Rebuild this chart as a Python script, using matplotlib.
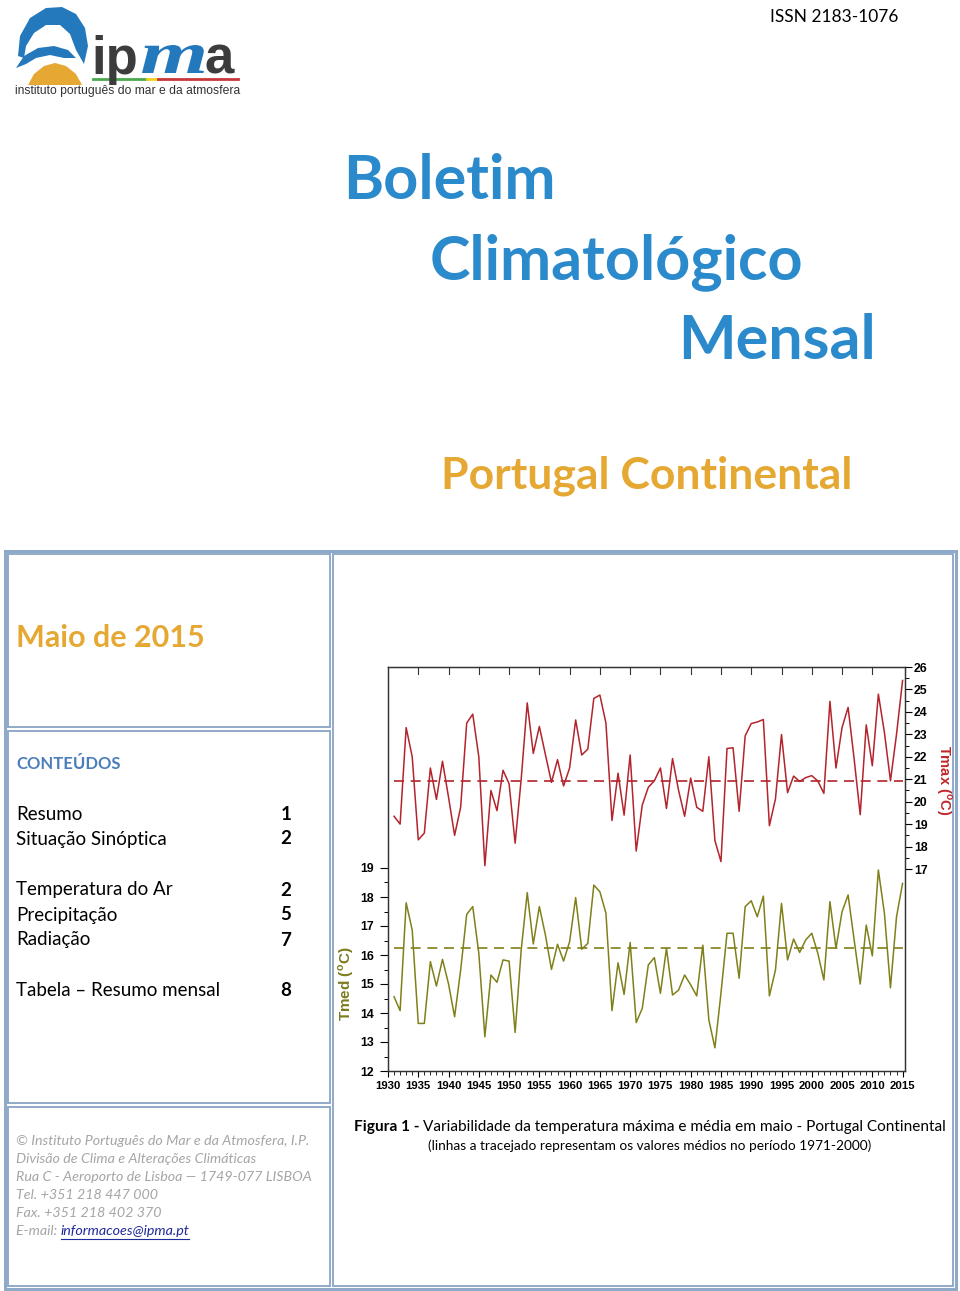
import numpy as np
import matplotlib
matplotlib.use("Agg")
import matplotlib.pyplot as plt
import matplotlib.transforms as mtransforms
from matplotlib.patches import Rectangle, Polygon, PathPatch
from matplotlib.textpath import TextPath
from matplotlib.font_manager import FontProperties
from matplotlib.ticker import MultipleLocator

plt.rcParams['font.family'] = ['Lato', 'DejaVu Sans']

W, H = 960, 1291

# ---- data ----
years = list(range(1931, 2016))
tmax = [19.35, 19.0, 23.3, 22.0, 18.3, 18.6, 21.5, 20.1, 21.8, 20.2,
        18.5, 19.75, 23.5, 23.9, 22.0, 17.15, 20.5, 19.6, 21.4, 20.8,
        18.15, 21.0, 24.4, 22.15, 23.35, 22.1, 20.86, 21.87, 20.7, 21.5,
        23.64, 22.08, 22.34, 24.6, 24.75, 23.5, 19.16, 21.27, 19.4, 22.08,
        17.8, 19.85, 20.64, 20.93, 21.5, 19.7, 21.92, 20.5, 19.35, 21.05,
        19.75, 19.57, 22.0, 18.27, 17.33, 22.37, 22.4, 19.57, 22.93, 23.48,
        23.55, 23.66, 18.93, 20.12, 22.99, 20.4, 21.14, 20.9, 21.07, 21.16,
        20.92, 20.37, 24.47, 21.5, 23.3, 24.2, 21.9, 19.42, 23.42, 21.6,
        24.79, 23.08, 20.93, 23.0, 25.4]
tmed = [14.56, 14.08, 17.8, 16.86, 13.64, 13.64, 15.77, 14.93, 15.85, 15.0,
        13.87, 15.48, 17.4, 17.67, 16.06, 13.18, 15.31, 15.06, 15.83, 15.79,
        13.33, 16.17, 18.15, 16.38, 17.67, 16.69, 15.5, 16.37, 15.79, 16.46,
        17.98, 16.2, 16.4, 18.41, 18.18, 17.44, 14.08, 15.73, 14.64, 16.43,
        13.67, 14.16, 15.66, 15.91, 14.68, 16.23, 14.62, 14.79, 15.31, 14.97,
        14.59, 16.34, 13.76, 12.8, 14.68, 16.75, 16.75, 15.2, 17.67, 17.87,
        17.32, 18.03, 14.59, 15.48, 17.78, 15.83, 16.55, 16.09, 16.52, 16.75,
        16.06, 15.14, 17.84, 16.23, 17.49, 18.07, 16.52, 15.0, 17.03, 15.97,
        18.93, 17.44, 14.87, 17.32, 18.47]
tmax_normal = 20.9   # 1971-2000
tmed_normal = 16.23
xtick_years = list(range(1930, 2016, 5))
tmed_ticks = list(range(12, 20))
tmax_ticks = list(range(17, 27))

contents = ["Resumo", "Situação Sinóptica", "Temperatura do Ar",
            "Precipitação", "Radiação", "Tabela – Resumo mensal"]
pages = ["1", "2", "2", "5", "7", "8"]
address = ["© Instituto Português do Mar e da Atmosfera, I.P.",
           "Divisão de Clima e Alterações Climáticas",
           "Rua C - Aeroporto de Lisboa — 1749-077 LISBOA",
           "Tel. +351 218 447 000",
           "Fax. +351 218 402 370"]

BLUE = '#2B8ACB'
GOLD = '#E5A833'
BORDER = '#8FAAC8'
RED = '#B3242C'
OLIVE = '#80801A'
LOGO_BLUE = '#2479BD'

fig = plt.figure(figsize=(W / 100, H / 100), dpi=100)
bg = fig.add_axes([0, 0, 1, 1])
bg.set_xlim(0, W)
bg.set_ylim(H, 0)
bg.axis('off')

# ---- logo ----
mound = [(28, 85), (34, 74), (44, 66), (55, 63), (66, 66), (76, 74), (82, 85)]
bg.add_patch(Polygon(mound, closed=True, color=GOLD, lw=0))
hood = [(18, 56), (20, 36), (30, 18), (46, 8), (62, 7), (76, 14), (85, 28),
        (88, 46), (84, 64), (76, 50), (70, 34), (60, 25), (46, 25), (34, 33),
        (26, 46), (24, 58)]
bg.add_patch(Polygon(hood, closed=True, color=LOGO_BLUE, lw=0))
wave = [(16, 68), (24, 56), (38, 48), (54, 46), (68, 50), (76, 58), (64, 58),
        (50, 55), (36, 58), (26, 64)]
bg.add_patch(Polygon(wave, closed=True, color=LOGO_BLUE, lw=0))
bg.plot([30, 40, 54, 66], [44, 36, 34, 38], color='white', lw=1.5)

bg.text(91, 74, "ip", fontsize=38, weight='bold', color='#3C3C3C',
        family='Liberation Sans', ha='left', va='baseline')
bg.text(204, 74, "a", fontsize=38, weight='bold', color='#3C3C3C',
        family='Liberation Sans', ha='left', va='baseline')
tp = TextPath((0, 0), "m", size=40,
              prop=FontProperties(family='Liberation Serif', style='italic',
                                  weight='bold'))
ext = tp.get_extents()
mtr = (mtransforms.Affine2D().translate(-ext.x0, -ext.y0)
       .scale(62 / ext.width, -28 / ext.height).translate(142, 73))
bg.add_patch(PathPatch(tp, color=LOGO_BLUE, lw=0,
                       transform=mtr + bg.transData))
bg.plot([93, 147], [79, 79], color='#4CA84C', lw=2)
bg.plot([147, 158], [79, 79], color='#F2D21B', lw=2)
bg.plot([158, 238], [79, 79], color='#C8373A', lw=2)
bg.text(15, 91, "instituto português do mar e da atmosfera", fontsize=8.7,
        color='#333333', family='Liberation Sans', ha='left', va='center')

bg.text(834, 17, "ISSN 2183-1076", fontsize=12.5, color='black',
        ha='center', va='center')

# ---- titles ----
bg.text(343, 199, "Boletim", fontsize=44, weight='bold', color=BLUE,
        ha='left', va='baseline')
bg.text(430, 279, "Climatológico", fontsize=44, weight='bold', color=BLUE,
        ha='left', va='baseline')
bg.text(678, 359, "Mensal", fontsize=44, weight='bold', color=BLUE,
        ha='left', va='baseline')
bg.text(441, 488, "Portugal Continental", fontsize=32, weight='bold',
        color=GOLD, ha='left', va='baseline')

# ---- table frame ----
bg.add_patch(Rectangle((5, 551), 951, 738, fill=False, ec=BORDER, lw=2.2))
for (x0, y0, x1, y1) in [(8, 554, 330, 727), (8, 731, 330, 1103),
                         (8, 1107, 330, 1286), (333, 554, 953, 1286)]:
    bg.add_patch(Rectangle((x0, y0), x1 - x0, y1 - y0, fill=False,
                           ec=BORDER, lw=1.4))

bg.text(16, 647, "Maio de 2015", fontsize=22, weight='bold', color=GOLD,
        ha='left', va='baseline')
bg.text(16, 764, "CONTEÚDOS", fontsize=12, weight='bold', color='#4A7EBB',
        ha='left', va='center')
row_y = [814, 839, 890, 915, 940, 991]
for name, pg, yy in zip(contents, pages, row_y):
    bg.text(16, yy, name, fontsize=13.5, color='black', ha='left', va='center')
    bg.text(286, yy, pg, fontsize=13.5, weight='bold', color='black',
            ha='center', va='center')

GRAY = '#A5A5A5'
for i, line in enumerate(address):
    bg.text(16, 1141 + 18 * i, line, fontsize=10.3, style='italic',
            color=GRAY, ha='left', va='center')

renderer = fig.canvas.get_renderer()


def text_width(t):
    return t.get_window_extent(renderer=renderer).width


lab = bg.text(16, 1231, "E-mail: ", fontsize=10.3, style='italic', color=GRAY,
              ha='left', va='center')
wl = text_width(lab)
mail = bg.text(16 + wl, 1231, "informacoes@ipma.pt", fontsize=10.3,
               style='italic', color='#1F2A9C', ha='left', va='center')
wm = text_width(mail)
bg.plot([16 + wl, 16 + wl + wm], [1238.5, 1238.5], color='#1F2A9C', lw=0.8)

# ---- caption ----
cap_b = bg.text(0, 1127, "Figura 1 - ", fontsize=11.1, weight='bold',
                color='black', ha='left', va='center')
cap_r = bg.text(0, 1127, "Variabilidade da temperatura máxima e média em maio"
                " - Portugal Continental", fontsize=11.1, color='black',
                ha='left', va='center')
wb, wr = text_width(cap_b), text_width(cap_r)
x0 = 650 - (wb + wr) / 2
cap_b.set_x(x0)
cap_r.set_x(x0 + wb)
bg.text(650, 1146, "(linhas a tracejado representam os valores médios no "
        "período 1971-2000)", fontsize=9.8, color='black', ha='center',
        va='center')

# ---- chart ----
L, R, T, B = 388, 905, 667, 1071
ax = fig.add_axes([L / W, 1 - B / H, (R - L) / W, (B - T) / H])
ax2 = ax.twinx()
ax.set_xlim(1930, 2015.4)

ax.plot(years, tmed, color=OLIVE, lw=1.1)
ax.plot([years[0], years[-1]], [tmed_normal, tmed_normal], color=OLIVE,
        lw=1.2, dashes=(6, 4))
ax2.plot(years, tmax, color=RED, lw=1.1)
ax2.plot([years[0], years[-1]], [tmax_normal, tmax_normal], color=RED,
         lw=1.2, dashes=(6, 4))

ax.set_ylim(12, 12 + (B - T) / 29.0)
ax2.set_ylim(8, 26)

tickfont = dict(family='Liberation Sans', weight='bold', size=8.8)
ax.set_yticks(tmed_ticks)
ax.set_yticks(np.arange(12, 19.01, 0.5), minor=True)
ax.set_yticklabels([str(v) for v in tmed_ticks], **tickfont)
ax2.set_yticks(tmax_ticks)
ax2.set_yticks(np.arange(17, 26.01, 0.5), minor=True)
ax2.set_yticklabels([str(v) for v in tmax_ticks], **tickfont)
ax.set_xticks(xtick_years)
ax.set_xticklabels([str(v) for v in xtick_years], family='Liberation Sans',
                   weight='bold', size=8.2)
ax.xaxis.set_minor_locator(MultipleLocator(1))

ax.tick_params(axis='y', which='major', direction='out', length=6, width=0.8,
               pad=4)
ax.tick_params(axis='y', which='minor', direction='out', length=3, width=0.7)
ax2.tick_params(axis='y', which='major', direction='out', length=5, width=0.8,
                pad=1.5)
ax2.tick_params(axis='y', which='minor', direction='out', length=3, width=0.7)
ax.tick_params(axis='x', which='major', direction='out', length=4, width=0.8,
               pad=3, top=False)
ax.tick_params(axis='x', which='minor', direction='out', length=3, width=0.6)
for a in (ax, ax2):
    for s in a.spines.values():
        s.set_linewidth(0.9)
        s.set_color('#333333')

# inward ticks on top spine
ytop = ax.get_ylim()[1]
for yr in xtick_years[1:-1]:
    ax.plot([yr, yr], [ytop, ytop - 0.25], color='#333333', lw=0.8,
            clip_on=False)

bg.text(346, 984, r"Tmed ($^\mathregular{o}$C)", rotation=90, fontsize=11,
        weight='bold', color='#7C7C1E', family='Liberation Sans',
        ha='center', va='center')
bg.text(944, 780, r"Tmax ($^\mathregular{o}$C)", rotation=270, fontsize=10.5,
        weight='bold', color='#C0282C', family='Liberation Sans',
        ha='center', va='center')

fig.savefig("out.png", dpi=100)
